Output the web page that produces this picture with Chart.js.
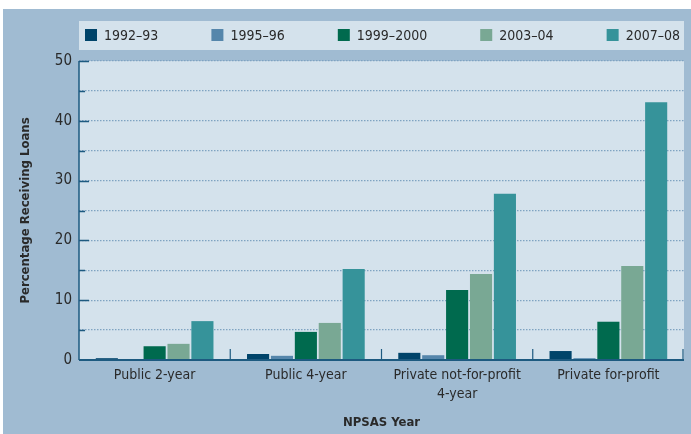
<!DOCTYPE html>
<html>
<head>
<meta charset="utf-8">
<script src="https://cdn.jsdelivr.net/npm/chart.js@4/dist/chart.umd.min.js"></script>
<style>
  html, body { margin: 0; padding: 0; background: #fff; }
</style>
</head>
<body>
<canvas id="myChart" width="691" height="434"></canvas>
<script>
  // datos
  const categorias = [['Public 2-year'], ['Public 4-year'], ['Private not-for-profit', '4-year'], ['Private for-profit']];
  const anios = ['1992\u201393', '1995\u201396', '1999\u20132000', '2003\u201304', '2007\u201308'];
  const colores = ['#00446a', '#5586ab', '#006a4e', '#79a894', '#36939a'];

  const val1992 = [0.3, 1.0, 1.2, 1.5];
  const val1995 = [0.0, 0.7, 0.8, 0.3];
  const val1999 = [2.3, 4.7, 11.7, 6.4];
  const val2003 = [2.7, 6.2, 14.4, 15.7];
  const val2007 = [6.5, 15.2, 27.8, 43.1];

  const ticksY = [0, 10, 20, 30, 40, 50];

  const fuente = '"Liberation Sans Narrow", "DejaVu Sans Condensed", "Arial Narrow", sans-serif';
  const colorPanel = '#a0bbd2';
  const colorPlot = '#d4e2ec';
  const colorEje = '#1d5a80';
  const colorTexto = '#2a2a2a';

  Chart.defaults.font.family = fuente;
  Chart.defaults.color = colorTexto;

  const series = [val1992, val1995, val1999, val2003, val2007];

  // fondo del panel y del area de trazado
  const fondo = {
    id: 'fondo',
    beforeDraw(chart) {
      const ctx = chart.ctx;
      const ca = chart.chartArea;
      ctx.save();
      ctx.fillStyle = '#ffffff';
      ctx.fillRect(0, 0, chart.width, chart.height);
      ctx.fillStyle = colorPanel;
      ctx.fillRect(3, 9, chart.width - 3, chart.height - 9);
      ctx.fillStyle = colorPlot;
      ctx.fillRect(ca.left, ca.top, ca.right - ca.left, ca.bottom - ca.top);
      ctx.restore();
    }
  };

  // ejes, marcas y leyenda
  const extras = {
    id: 'extras',
    afterDatasetsDraw(chart) {
      const ctx = chart.ctx;
      const ca = chart.chartArea;
      const sx = chart.scales.x;
      const sy = chart.scales.y;
      ctx.save();
      ctx.strokeStyle = colorEje;

      // marcas del eje y
      ctx.lineWidth = 1.5;
      for (let v = 5; v <= 50; v += 5) {
        const y = Math.round(sy.getPixelForValue(v)) + 0.5;
        const largo = v % 10 === 0 ? 10 : 6;
        ctx.beginPath();
        ctx.moveTo(ca.left, y);
        ctx.lineTo(ca.left + largo, y);
        ctx.stroke();
      }

      // separadores de categorias
      ctx.lineWidth = 1.2;
      for (let i = 0; i < categorias.length; i++) {
        const x = i < categorias.length - 1
          ? (sx.getPixelForValue(i) + sx.getPixelForValue(i + 1)) / 2
          : ca.right - 1;
        ctx.beginPath();
        ctx.moveTo(x, ca.bottom);
        ctx.lineTo(x, ca.bottom - 11);
        ctx.stroke();
      }

      // lineas de ejes
      ctx.lineWidth = 1.5;
      ctx.beginPath();
      ctx.moveTo(ca.left, ca.top);
      ctx.lineTo(ca.left, ca.bottom);
      ctx.stroke();
      ctx.lineWidth = 2;
      ctx.beginPath();
      ctx.moveTo(ca.left, ca.bottom);
      ctx.lineTo(ca.right, ca.bottom);
      ctx.stroke();

      // leyenda
      ctx.fillStyle = colorPlot;
      ctx.fillRect(ca.left, 21, ca.right - ca.left, 29);
      ctx.font = '14px ' + fuente;
      ctx.textBaseline = 'middle';
      let total = 0;
      chart.data.datasets.forEach(ds => { total += 19 + ctx.measureText(ds.label).width; });
      const ini = ca.left + 6;
      const fin = ca.right - 4;
      const hueco = (fin - ini - total) / (chart.data.datasets.length - 1);
      let x = ini;
      chart.data.datasets.forEach(ds => {
        ctx.fillStyle = ds.backgroundColor;
        ctx.fillRect(x, 29, 12, 12);
        ctx.fillStyle = colorTexto;
        ctx.fillText(ds.label, x + 19, 36);
        x += 19 + ctx.measureText(ds.label).width + hueco;
      });
      ctx.restore();
    }
  };

  const ctx = document.getElementById('myChart').getContext('2d');
  const chart = new Chart(ctx, {
    type: 'bar',
    data: {
      labels: categorias,
      datasets: anios.map((a, i) => ({
        label: a,
        data: series[i],
        backgroundColor: colores[i],
        borderWidth: 0,
        categoryPercentage: 0.79,
        barPercentage: 0.925
      }))
    },
    options: {
      responsive: false,
      animation: false,
      layout: { padding: { top: 61, right: 7, bottom: 0, left: 0 } },
      plugins: {
        legend: { display: false },
        tooltip: { enabled: false }
      },
      scales: {
        x: {
          afterFit(scale) { scale.height = 74; },
          grid: { display: false },
          border: { display: false },
          ticks: { font: { size: 14, lineHeight: 1.35 }, padding: -2, maxRotation: 0, autoSkip: false, color: colorTexto },
          title: { display: true, text: 'NPSAS Year', font: { size: 13, weight: 'bold' }, padding: { top: 0, bottom: 4 }, color: colorTexto }
        },
        y: {
          min: 0,
          max: 50,
          afterFit(scale) { scale.width = 79; },
          ticks: {
            stepSize: 5,
            padding: 7,
            font: { size: 15 },
            color: colorTexto,
            callback: v => ticksY.includes(v) ? v : ''
          },
          grid: { color: '#7fa3c1', lineWidth: 1.3, drawTicks: false },
          border: { display: false, dash: [1.5, 1.5] },
          title: { display: true, text: 'Percentage Receiving Loans', font: { size: 13, weight: 'bold' }, padding: { top: 18, bottom: 0 }, color: colorTexto }
        }
      }
    },
    plugins: [fondo, extras]
  });
</script>
</body>
</html>
